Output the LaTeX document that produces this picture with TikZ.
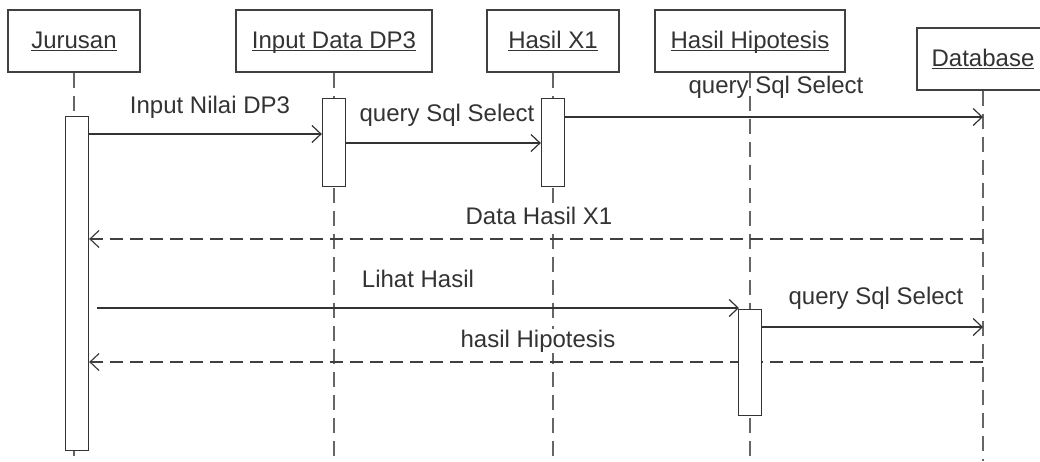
\documentclass[tikz,border=0pt]{standalone}
\usepackage{fontspec}
\setmainfont{Liberation Sans}
\usepackage{tikz}
\usetikzlibrary{arrows.meta}
\usetikzlibrary{positioning}

\newcommand{\objname}[1]{\underline{\smash{#1}}}

\begin{document}
\begin{tikzpicture}[x=1pt,y=-1pt,>={Straight Barb[length=9pt,width=17pt]},
  every node/.style={font=\fontsize{24}{28}\selectfont,text=black!80},
  obj/.style={draw=black!75,line width=1.4pt,fill=white,minimum height=62pt,inner sep=0pt,text height=17pt},
  bar/.style={draw=black!80,line width=1.3pt,fill=white,minimum width=23pt,inner sep=0pt,anchor=north},
  lifeline/.style={draw=black!60,line width=1.5pt,dash pattern=on 15pt off 8pt},
  msg/.style={draw=black!80,line width=1.2pt,->},
  reply/.style={draw=black!75,line width=1.2pt,dash pattern=on 13pt off 7pt,->},
  lbl/.style={fill=white,inner sep=1pt}]

  \clip (0,0) rectangle (1040,461);
  \coordinate (bottom) at (0,461);

  % objects
  \node[obj,minimum width=132pt] (jur) at (74,41) {\objname{Jurusan}};
  \node[obj,minimum width=196pt] (dp3) at (334,41) {\objname{Input Data DP3}};
  \node[obj,minimum width=132pt] (hx1) at (553,41) {\objname{Hasil X1}};
  \node[obj,minimum width=190pt] (hip) at (750,41) {\objname{Hasil Hipotesis}};
  \node[obj,minimum width=132pt] (db) at (983,59) {\objname{Database}};

  % lifelines
  \foreach \o in {jur,dp3,hx1,hip,db}
    \draw[lifeline] (\o.south) -- (\o.south |- bottom);

  % activations
  \node[bar,minimum height=334pt] (jurbar) at (77,116) {};
  \node[bar,minimum height=88pt] (dp3bar) at (334,98) {};
  \node[bar,minimum height=88pt] (hx1bar) at (553,98) {};

  % messages
  \draw[msg] (jurbar.east |- 0,134) -- (dp3bar.west |- 0,134);
  \draw[msg] (dp3bar.east |- 0,143) -- (hx1bar.west |- 0,143);
  \draw[msg] (hx1bar.east |- 0,117) -- (db.south |- 0,117);
  \draw[reply] (db.south |- 0,239) -- (jurbar.east |- 0,239);
  \draw[msg] ([xshift=8pt]jurbar.east |- 0,308) -- (739,308);
  \draw[reply] (db.south |- 0,362) -- (jurbar.east |- 0,362);

  \node[bar,minimum height=106pt] (hipbar) at (750,309) {};
  \draw[msg] (hipbar.east |- 0,327) -- (db.south |- 0,327);

  % labels
  \node[lbl] (l1) at (210,107) {Input Nilai DP3};
  \node[lbl] (l2) at (447,115) {query Sql Select};
  \node (l3) at (776,87) {query Sql Select};
  \node[lbl] (l4) at (539,216) {Data Hasil X1};
  \node[lbl] (l5) at (418,279) {Lihat Hasil};
  \node[lbl] (l6) at (876,298) {query Sql Select};
  \node[lbl] (l7) at (538,341) {hasil Hipotesis};

\end{tikzpicture}
\end{document}
